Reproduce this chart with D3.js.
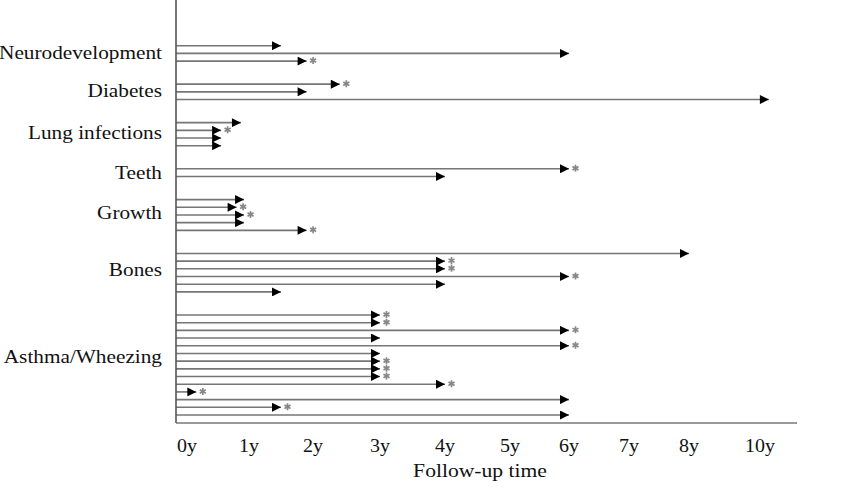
<!DOCTYPE html>
<html>
<head>
<meta charset="utf-8">
<script src="https://cdn.jsdelivr.net/npm/d3@7"></script>
<style>
  html, body { margin: 0; padding: 0; background: #fff; }
  svg { display: block; }
  text { font-family: "Liberation Serif", "DejaVu Serif", serif; fill: #111; }
</style>
</head>
<body>
<svg id="chart" width="846" height="500"></svg>
<script>
// ---- data ----
const categories = ["Neurodevelopment", "Diabetes", "Lung infections", "Teeth", "Growth", "Bones", "Asthma/Wheezing"];
// follow-up time (years) of each study, per category, top to bottom
const followUp = [
  [1.5, 6, 1.9],
  [2.4, 1.9, 10.25],
  [0.87, 0.55, 0.55, 0.55],
  [6, 4],
  [0.92, 0.8, 0.92, 0.92, 1.9],
  [8, 4, 4, 6, 4, 1.5],
  [3, 3, 6, 3, 6, 3, 3, 3, 3, 4, 0.15, 6, 1.5, 6]
];
// 1 = study marked with an asterisk
const significant = [
  [0, 0, 1],
  [1, 0, 0],
  [0, 1, 0, 0],
  [1, 0],
  [0, 1, 1, 0, 1],
  [0, 1, 1, 1, 0, 0],
  [1, 1, 1, 0, 1, 0, 1, 1, 1, 1, 1, 0, 1, 0]
];
const tickValues = [0, 1, 2, 3, 4, 5, 6, 7, 8, 10];
const tickLabels = ["0y", "1y", "2y", "3y", "4y", "5y", "6y", "7y", "8y", "10y"];
const axisTitle = "Follow-up time";

// ---- layout ----
const axisX = 176, axisY = 423, axisRight = 797;
const tickPos = [187, 249, 313, 380, 445, 510, 569, 629, 689, 760];
const gapSlots = 2;

const svg = d3.select("#chart");

// build rows
const rows = [];
const groups = [];
let slot = 0;
categories.forEach((cat, gi) => {
  const start = slot;
  followUp[gi].forEach((v, ri) => {
    rows.push({ cat, value: v, star: significant[gi][ri] === 1, slot });
    slot++;
  });
  groups.push({ cat, start, end: slot - 1 });
  slot += gapSlots;
});
const lastSlot = slot - gapSlots - 1;

const x = d3.scaleLinear().domain(tickValues).range(tickPos);
const y = d3.scaleLinear().domain([0, lastSlot]).range([45.7, 415]);

// arrow marker
svg.append("defs").append("marker")
  .attr("id", "arrow")
  .attr("markerUnits", "userSpaceOnUse")
  .attr("viewBox", "0 0 10 10")
  .attr("refX", 10).attr("refY", 5)
  .attr("markerWidth", 11).attr("markerHeight", 9)
  .attr("orient", "auto")
  .append("path")
  .attr("d", "M0,0 L10,5 L0,10 Z")
  .attr("fill", "#000");

// rows
const g = svg.append("g");
g.selectAll("line.study")
  .data(rows)
  .join("line")
  .attr("class", "study")
  .attr("x1", axisX)
  .attr("x2", d => x(d.value))
  .attr("y1", d => y(d.slot))
  .attr("y2", d => y(d.slot))
  .attr("stroke", "#767676")
  .attr("stroke-width", 1.6)
  .attr("marker-end", "url(#arrow)");

// asterisks
g.selectAll("path.star")
  .data(rows.filter(d => d.star))
  .join("path")
  .attr("class", "star")
  .attr("transform", d => `translate(${x(d.value) + 6.5},${y(d.slot) - 0.5})`)
  .attr("d", d3.symbol(d3.symbolAsterisk, 34))
  .attr("fill", "none")
  .attr("stroke", "#888")
  .attr("stroke-width", 1.7);

// axes lines
svg.append("line")
  .attr("x1", axisX).attr("x2", axisX)
  .attr("y1", 0).attr("y2", axisY)
  .attr("stroke", "#555").attr("stroke-width", 1.6);
svg.append("line")
  .attr("x1", axisX).attr("x2", axisRight)
  .attr("y1", axisY).attr("y2", axisY)
  .attr("stroke", "#777").attr("stroke-width", 1.6);

// x axis tick labels
const xAxis = d3.axisBottom(x)
  .tickValues(tickValues)
  .tickSize(0)
  .tickPadding(0)
  .tickFormat((d, i) => tickLabels[i]);
const ax = svg.append("g").attr("transform", `translate(0,${axisY})`).call(xAxis);
ax.select(".domain").remove();
ax.selectAll("text")
  .attr("y", 0)
  .attr("dy", 0)
  .attr("transform", "translate(0,29) scale(1.08,1)")
  .style("font-family", '"Liberation Serif", serif')
  .style("font-size", "18.5px")
  .attr("fill", "#111");
// keep each tick label centred on its tick after horizontal scaling
ax.selectAll(".tick").each(function () {
  const t = d3.select(this);
  const tx = x(t.datum());
  t.attr("transform", `translate(${tx},0)`);
});

// axis title
svg.append("text")
  .attr("transform", `translate(480,477) scale(1.2,1)`)
  .attr("text-anchor", "middle")
  .style("font-size", "18px")
  .text(axisTitle);

// category labels
svg.selectAll("text.cat")
  .data(groups)
  .join("text")
  .attr("class", "cat")
  .attr("transform", d => `translate(162,${y(d.start) + (y(d.end) - y(d.start)) * 0.42 + 6.5}) scale(1.12,1)`)
  .attr("text-anchor", "end")
  .style("font-size", "19px")
  .text(d => d.cat);
</script>
</body>
</html>
